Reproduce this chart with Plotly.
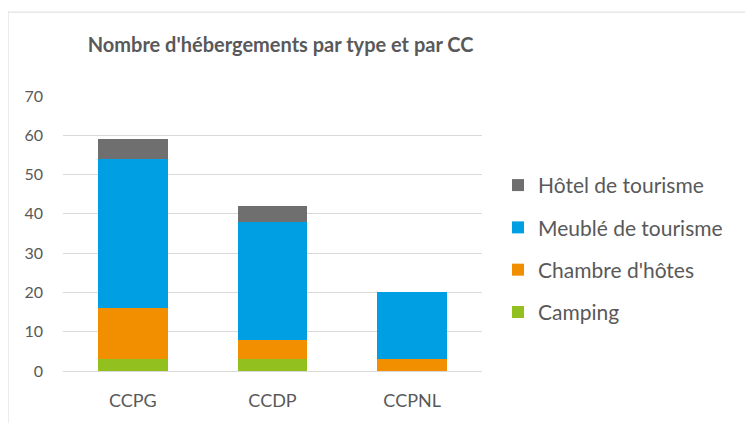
import plotly.graph_objects as go

categories = ["CCPG", "CCDP", "CCPNL"]
camping = [3, 3, 0]
chambre = [13, 5, 3]
meuble = [38, 30, 17]
hotel = [5, 4, 0]

series = [
    ("Camping", camping, "#92C01F", 4),
    ("Chambre d'hôtes", chambre, "#F18F00", 3),
    ("Meublé de tourisme", meuble, "#009FE3", 2),
    ("Hôtel de tourisme", hotel, "#6F6F6F", 1),
]

FONT = "Lato, Open Sans, sans-serif"
GRAY = "#595959"

# page body has an 8px offset; plot area in figure coords
L, T, R, B = 55, 88, 474, 363.3
W, H = 753, 423
PW, PH = R - L, B - T

fig = go.Figure()
for name, vals, col, rank in series:
    fig.add_trace(go.Bar(x=categories, y=vals, name=name, marker_color=col,
                         marker_line_width=0, legendgroup=name, legendrank=rank))

fig.update_layout(
    width=W, height=H,
    barmode="stack", bargap=0.5,
    paper_bgcolor="white", plot_bgcolor="white",
    margin=dict(l=L, r=W - R, t=T, b=H - B),
    font=dict(family=FONT, color=GRAY),
    title=dict(text="<b>Nombre d'hébergements par type et par CC</b>",
               x=0.362, xanchor="center", y=1 - 37 / H, yanchor="middle",
               font=dict(size=20, color=GRAY, family=FONT)),
    legend=dict(x=(490 - L) / PW, y=(B - 157) / PH, xanchor="left", yanchor="top",
                traceorder="grouped", tracegroupgap=12,
                font=dict(size=21, color=GRAY)),
    xaxis=dict(showgrid=False, showline=False, ticks="",
               tickfont=dict(size=18, color=GRAY), ticklabelstandoff=17),
    yaxis=dict(range=[0, 70], dtick=10, showgrid=True, gridcolor="#D9D9D9",
               gridwidth=1, zeroline=True, zerolinecolor="#D9D9D9",
               zerolinewidth=1, showline=False, ticks="",
               tickfont=dict(size=16, color=GRAY), ticklabelstandoff=19),
    shapes=[dict(type="rect", xref="paper", yref="paper",
                 x0=(0 - L) / PW, x1=(744 - L) / PW,
                 y0=-0.3, y1=(B - 4) / PH,
                 line=dict(color="#D9D9D9", width=1), layer="below")],
)

fig.write_html("out.html")
